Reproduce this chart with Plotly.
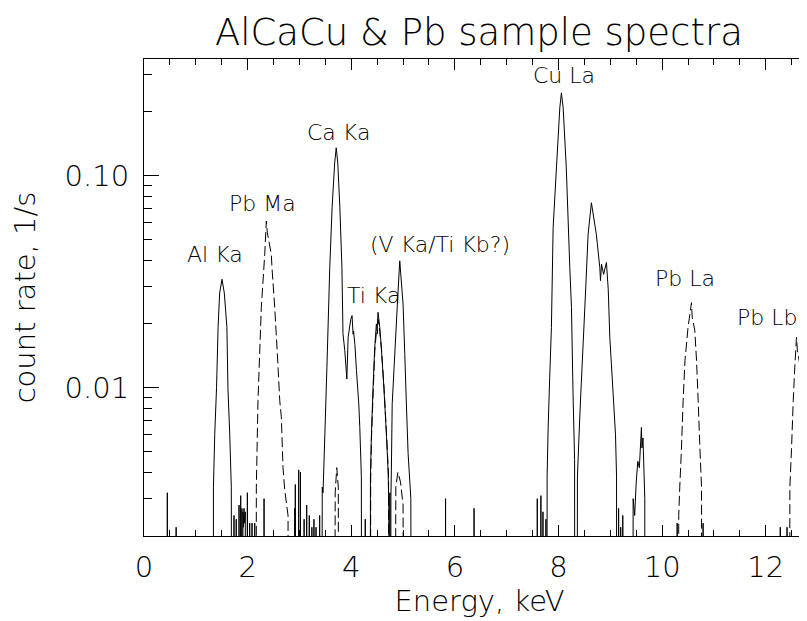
import numpy as np
import plotly.graph_objects as go

# ---------------- data ----------------
# AlCaCu spectrum (solid line); 0 = no counts in that bin
alcacu_energy = [
    0.00, 0.449, 0.45, 0.451, 0.619, 0.62, 0.621,
    1.33, 1.34, 1.365, 1.40, 1.43, 1.46, 1.506, 1.55, 1.60, 1.62, 1.655, 1.685, 1.70,
    1.736, 1.737, 1.738, 1.779, 1.78, 1.781, 1.833, 1.834, 1.835, 1.865, 1.866, 1.867,
    1.889, 1.89, 1.891, 1.91, 1.92, 1.93, 1.94, 1.955, 1.956, 1.994, 1.995, 1.996,
    2.039, 2.04, 2.041, 2.084, 2.085, 2.086, 2.136, 2.137, 2.138, 2.316, 2.317, 2.318,
    2.909, 2.91, 2.911, 2.919, 2.92, 2.921, 2.985, 2.986, 2.987, 3.019, 3.02, 3.021,
    3.089, 3.09, 3.091, 3.139, 3.14, 3.141, 3.189, 3.19, 3.191, 3.239, 3.24, 3.241,
    3.279, 3.28, 3.281, 3.319, 3.32, 3.321, 3.389, 3.39, 3.391,
    3.42, 3.44, 3.455, 3.49, 3.53, 3.585, 3.63, 3.68, 3.71, 3.74, 3.78, 3.82, 3.84, 3.875,
    3.915, 3.94, 3.99, 4.015, 4.035, 4.045, 4.07, 4.10, 4.145, 4.165, 4.195, 4.21,
    4.269, 4.27, 4.271,
    4.36, 4.37, 4.388, 4.42, 4.453, 4.485, 4.50, 4.517, 4.55, 4.58, 4.63, 4.68, 4.71,
    4.725, 4.735, 4.745, 4.755, 4.765,
    4.774, 4.79, 4.84, 4.89, 4.936, 5.00, 5.033, 5.064, 5.097, 5.15, 5.17,
    5.819, 5.82, 5.821, 6.369, 6.37, 6.371,
    7.589, 7.59, 7.591, 7.659, 7.66, 7.661, 7.699, 7.70, 7.701, 7.756, 7.757, 7.758,
    7.77, 7.78, 7.80, 7.83, 7.863, 7.896, 7.96, 8.025, 8.056, 8.09, 8.15, 8.218, 8.25,
    8.28, 8.31, 8.32, 8.35, 8.365, 8.39, 8.43, 8.475, 8.52, 8.571, 8.635, 8.73, 8.797,
    8.81, 8.83, 8.87, 8.925, 8.96, 8.99, 9.054, 9.10, 9.12, 9.13,
    9.159, 9.16, 9.161, 9.199, 9.20, 9.201, 9.239, 9.24, 9.241,
    9.43, 9.44, 9.47, 9.50, 9.53, 9.56, 9.59, 9.60, 9.61, 9.63, 9.65, 9.665, 9.67,
    10.289, 10.29, 10.291, 10.789, 10.79, 10.791, 12.279, 12.28, 12.281,
    12.409, 12.41, 12.411, 13.0,
]
alcacu_rate = [
    0, 0, 0.0032, 0, 0, 0.0022, 0,
    0, 0.0034, 0.0060, 0.0100, 0.0193, 0.0280, 0.0325, 0.0280, 0.0193, 0.0100, 0.0060, 0.0034, 0,
    0, 0.0025, 0, 0, 0.0024, 0, 0, 0.0028, 0, 0, 0.0031, 0,
    0, 0.0027, 0, 0.0026, 0.0022, 0.0027, 0.0023, 0.0026, 0, 0, 0.0032, 0,
    0, 0.0023, 0, 0, 0.0023, 0, 0, 0.0023, 0, 0, 0.0030, 0,
    0, 0.0027, 0, 0, 0.0035, 0, 0, 0.0041, 0, 0, 0.0040, 0,
    0, 0.0024, 0, 0, 0.0028, 0, 0, 0.0025, 0, 0, 0.0022, 0,
    0, 0.0024, 0, 0, 0.0022, 0, 0, 0.0025, 0,
    0, 0.0034, 0.0032, 0.0060, 0.0125, 0.0369, 0.0707, 0.115, 0.1355, 0.115, 0.0707, 0.0369, 0.0180, 0.0150,
    0.0110, 0.0173, 0.0210, 0.0219, 0.0179, 0.0185, 0.0160, 0.0121, 0.0084, 0.0065, 0.0038, 0,
    0, 0.0024, 0,
    0, 0.0038, 0.0059, 0.0100, 0.0155, 0.0200, 0.0190, 0.0227, 0.0193, 0.0155, 0.0100, 0.0059, 0.0041,
    0.0028, 0, 0.0032, 0, 0.0030,
    0.0041, 0.0084, 0.0144, 0.0248, 0.0397, 0.0248, 0.0144, 0.0084, 0.0049, 0.0030, 0,
    0, 0.0030, 0, 0, 0.0027, 0,
    0, 0.0030, 0, 0, 0.0031, 0, 0, 0.0026, 0, 0, 0.0024, 0,
    0, 0.0038, 0.0065, 0.0112, 0.0193, 0.0570, 0.109, 0.209, 0.246, 0.209, 0.109, 0.0369, 0.0239,
    0.0094, 0.0046, 0, 0, 0.0038, 0.0055, 0.0094, 0.0161, 0.0277, 0.0530, 0.0746, 0.0530, 0.0369,
    0.0320, 0.0383, 0.0343, 0.0390, 0.0290, 0.0173, 0.0094, 0.0060, 0.0038, 0,
    0, 0.0027, 0, 0, 0.0022, 0, 0, 0.0025, 0,
    0, 0.0030, 0.0025, 0.0036, 0.0045, 0.0042, 0.0058, 0.0065, 0.0052, 0.0058, 0.0040, 0.0030, 0,
    0, 0.0023, 0, 0, 0.0023, 0, 0, 0.0022, 0,
    0, 0.0022, 0, 0,
]

# Pb spectrum (dashed line)
pb_energy = [
    0.00, 2.16, 2.168, 2.20, 2.264, 2.33, 2.361, 2.38, 2.457, 2.47, 2.523, 2.574, 2.62,
    2.65, 2.683, 2.716, 2.78, 2.80,
    3.66, 3.69, 3.72, 3.75, 3.77,
    4.365, 4.375, 4.39, 4.425, 4.455, 4.49, 4.505, 4.52, 4.55, 4.585, 4.635, 4.685, 4.72, 4.74,
    4.82, 4.86, 4.90, 4.95, 5.00, 5.03,
    10.31, 10.32, 10.34, 10.372, 10.405, 10.44, 10.50, 10.566, 10.58, 10.63, 10.664,
    10.695, 10.73, 10.76, 10.77,
    12.45, 12.465, 12.496, 12.53, 12.56, 12.593, 12.61, 12.69, 12.754, 12.786, 12.80, 13.0,
]
pb_rate = [
    0, 0, 0.0034, 0.0087, 0.0239, 0.0426, 0.0612, 0.0540, 0.0426, 0.0369, 0.0239, 0.0144, 0.0087,
    0.0073, 0.0042, 0.0033, 0.0025, 0,
    0, 0.0032, 0.0042, 0.0034, 0,
    0, 0.0037, 0.0058, 0.0098, 0.0150, 0.0190, 0.0180, 0.0210, 0.0185, 0.0150, 0.0098, 0.0058, 0.0038, 0,
    0, 0.0034, 0.0040, 0.0036, 0.0028, 0,
    0, 0.0025, 0.0034, 0.0051, 0.0087, 0.0134, 0.0193, 0.0252, 0.0215, 0.0187, 0.0134,
    0.0087, 0.0051, 0.0034, 0,
    0, 0.0034, 0.0051, 0.0087, 0.0125, 0.0173, 0.0150, 0.0116, 0.0073, 0.0042, 0, 0,
]

peak_labels = ["Al Ka", "Pb Ma", "Ca Ka", "Ti Ka", "(V Ka/Ti Kb?)", "Cu La", "Pb La", "Pb Lb"]
label_energy = [1.361, 2.288, 3.755, 4.421, 5.705, 8.11, 10.434, 12.017]
label_rate = [0.0425, 0.0738, 0.1594, 0.0272, 0.0474, 0.2987, 0.0328, 0.0215]

x_ticks = [0, 2, 4, 6, 8, 10, 12]
y_ticks = [0.01, 0.1]
y_ticktext = ["0.01", "0.10"]
y_minor = [0.002, 0.003, 0.004, 0.005, 0.006, 0.007, 0.008, 0.009,
           0.02, 0.03, 0.04, 0.05, 0.06, 0.07, 0.08, 0.09, 0.2, 0.3]

# ---------------- figure ----------------
FLOOR = 1e-6  # zero-count bins fall below the log axis


def plottable(vals):
    return [v if v > 0 else FLOOR for v in vals]


FONT = "DejaVu Sans"

fig = go.Figure()
fig.add_trace(go.Scatter(
    x=alcacu_energy, y=plottable(alcacu_rate), mode="lines",
    line=dict(color="black", width=1, simplify=False), name="AlCaCu",
))
fig.add_trace(go.Scatter(
    x=pb_energy, y=plottable(pb_rate), mode="lines",
    line=dict(color="black", width=1, dash="10px,4px", simplify=False), name="Pb",
))

for txt, ex, ry in zip(peak_labels, label_energy, label_rate):
    fig.add_annotation(x=ex, y=np.log10(ry), xref="x", yref="y", text=txt,
                       showarrow=False, xanchor="center", yanchor="middle",
                       font=dict(family=FONT, size=22, color="black", weight=200))

axis_common = dict(
    showline=True, linecolor="black", linewidth=1, mirror="allticks",
    ticks="inside", tickcolor="black", tickwidth=1,
    showgrid=False, zeroline=False,
    tickfont=dict(family=FONT, size=29, color="black", weight=200),
)

fig.update_layout(
    width=807, height=621,
    margin=dict(l=136, r=0, t=51, b=93),
    paper_bgcolor="white", plot_bgcolor="white",
    showlegend=False,
    title=dict(text="AlCaCu & Pb sample spectra", x=0.5835, xanchor="center",
               y=0.961, yanchor="middle",
               font=dict(family=FONT, size=37, color="black", weight=200)),
    xaxis=dict(
        range=[0, 12.95], tickmode="array", tickvals=x_ticks, ticklen=11,
        minor=dict(dtick=0.5, tick0=0, ticks="inside", ticklen=6, tickcolor="black", showgrid=False),
        ticklabelstandoff=5,
        title=dict(text="Energy, keV", standoff=6,
                   font=dict(family=FONT, size=29, color="black", weight=200)),
        **axis_common,
    ),
    yaxis=dict(
        type="log", range=[np.log10(0.002), np.log10(0.3555)],
        tickmode="array", tickvals=y_ticks, ticktext=y_ticktext, ticklen=15,
        minor=dict(tickmode="array", tickvals=y_minor, ticks="inside", ticklen=8,
                   tickcolor="black", showgrid=False),
        ticklabelstandoff=8,
        title=dict(text="count rate, 1/s", standoff=20,
                   font=dict(family=FONT, size=29, color="black", weight=200)),
        **axis_common,
    ),
)

fig.write_html("out.html")
